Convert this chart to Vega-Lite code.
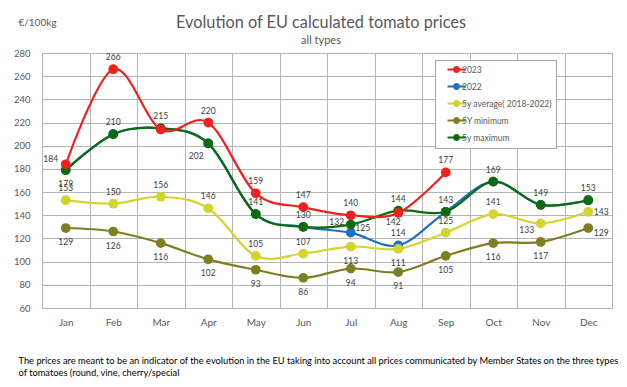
{
  "$schema": "https://vega.github.io/schema/vega-lite/v6.json",
  "width": 570,
  "height": 255,
  "autosize": {"type": "none"},
  "padding": {"left": 42, "top": 53, "right": 15, "bottom": 79},
  "background": "white",
  "config": {
    "font": "Lato",
    "view": {"stroke": "#b4b4b4", "strokeWidth": 1}
  },
  "title": {
    "text": "Evolution of EU calculated tomato prices",
    "subtitle": "all types",
    "fontSize": 16.3,
    "fontWeight": "normal",
    "color": "#595959",
    "subtitleColor": "#595959",
    "subtitleFontSize": 11,
    "anchor": "middle",
    "dx": -6,
    "offset": -29,
    "subtitlePadding": 4
  },
  "data": {
    "values": [
      {"month": "Jan", "series": "2023", "value": 184},
      {"month": "Feb", "series": "2023", "value": 266},
      {"month": "Mar", "series": "2023", "value": 214},
      {"month": "Apr", "series": "2023", "value": 220},
      {"month": "May", "series": "2023", "value": 159},
      {"month": "Jun", "series": "2023", "value": 147},
      {"month": "Jul", "series": "2023", "value": 140},
      {"month": "Aug", "series": "2023", "value": 142},
      {"month": "Sep", "series": "2023", "value": 177},
      {"month": "Jan", "series": "2022", "value": 179},
      {"month": "Feb", "series": "2022", "value": 210},
      {"month": "Mar", "series": "2022", "value": 215},
      {"month": "Apr", "series": "2022", "value": 202},
      {"month": "May", "series": "2022", "value": 141},
      {"month": "Jun", "series": "2022", "value": 130},
      {"month": "Jul", "series": "2022", "value": 125},
      {"month": "Aug", "series": "2022", "value": 114},
      {"month": "Sep", "series": "2022", "value": 143},
      {"month": "Oct", "series": "2022", "value": 169},
      {"month": "Nov", "series": "2022", "value": 149},
      {"month": "Dec", "series": "2022", "value": 153},
      {"month": "Jan", "series": "5y average( 2018-2022)", "value": 153},
      {"month": "Feb", "series": "5y average( 2018-2022)", "value": 150},
      {"month": "Mar", "series": "5y average( 2018-2022)", "value": 156},
      {"month": "Apr", "series": "5y average( 2018-2022)", "value": 146},
      {"month": "May", "series": "5y average( 2018-2022)", "value": 105},
      {"month": "Jun", "series": "5y average( 2018-2022)", "value": 107},
      {"month": "Jul", "series": "5y average( 2018-2022)", "value": 113},
      {"month": "Aug", "series": "5y average( 2018-2022)", "value": 111},
      {"month": "Sep", "series": "5y average( 2018-2022)", "value": 125},
      {"month": "Oct", "series": "5y average( 2018-2022)", "value": 141},
      {"month": "Nov", "series": "5y average( 2018-2022)", "value": 133},
      {"month": "Dec", "series": "5y average( 2018-2022)", "value": 143},
      {"month": "Jan", "series": "5Y minimum", "value": 129},
      {"month": "Feb", "series": "5Y minimum", "value": 126},
      {"month": "Mar", "series": "5Y minimum", "value": 116},
      {"month": "Apr", "series": "5Y minimum", "value": 102},
      {"month": "May", "series": "5Y minimum", "value": 93},
      {"month": "Jun", "series": "5Y minimum", "value": 86},
      {"month": "Jul", "series": "5Y minimum", "value": 94},
      {"month": "Aug", "series": "5Y minimum", "value": 91},
      {"month": "Sep", "series": "5Y minimum", "value": 105},
      {"month": "Oct", "series": "5Y minimum", "value": 116},
      {"month": "Nov", "series": "5Y minimum", "value": 117},
      {"month": "Dec", "series": "5Y minimum", "value": 129},
      {"month": "Jan", "series": "5y maximum", "value": 179},
      {"month": "Feb", "series": "5y maximum", "value": 210},
      {"month": "Mar", "series": "5y maximum", "value": 215},
      {"month": "Apr", "series": "5y maximum", "value": 202},
      {"month": "May", "series": "5y maximum", "value": 141},
      {"month": "Jun", "series": "5y maximum", "value": 130},
      {"month": "Jul", "series": "5y maximum", "value": 132},
      {"month": "Aug", "series": "5y maximum", "value": 144},
      {"month": "Sep", "series": "5y maximum", "value": 143},
      {"month": "Oct", "series": "5y maximum", "value": 169},
      {"month": "Nov", "series": "5y maximum", "value": 149},
      {"month": "Dec", "series": "5y maximum", "value": 153}
    ]
  },
  "encoding": {
    "x": {
      "field": "month",
      "type": "nominal",
      "sort": ["Jan", "Feb", "Mar", "Apr", "May", "Jun", "Jul", "Aug", "Sep", "Oct", "Nov", "Dec"],
      "scale": {"type": "band", "paddingInner": 0, "paddingOuter": 0},
      "axis": {
        "tickBand": "extent",
        "ticks": false,
        "domain": false,
        "grid": true,
        "gridColor": "#b4b4b4",
        "labelAngle": 0,
        "labelFontSize": 10,
        "labelColor": "#595959",
        "labelPadding": 9,
        "title": ["The prices are meant to be an indicator of the evolution in the EU taking into account all prices communicated by Member States on the three types", "of tomatoes (round, vine, cherry/special"],
        "titleX": -24,
        "titleY": 55,
        "titleAlign": "left",
        "titleAnchor": "start",
        "titleBaseline": "alphabetic",
        "titleFontSize": 9.3,
        "titleFontWeight": "normal",
        "titleColor": "#000000",
        "titleLineHeight": 12,
        "titleLimit": 800
      }
    },
    "y": {
      "field": "value",
      "type": "quantitative",
      "scale": {"domain": [60, 280], "nice": false, "zero": false},
      "axis": {
        "values": [60, 80, 100, 120, 140, 160, 180, 200, 220, 240, 260, 280],
        "ticks": false,
        "domain": false,
        "gridColor": "#b4b4b4",
        "labelFontSize": 9.5,
        "labelColor": "#595959",
        "labelPadding": 12,
        "title": "€/100kg",
        "titleAngle": 0,
        "titleX": -24,
        "titleY": -28,
        "titleAlign": "left",
        "titleBaseline": "alphabetic",
        "titleFontSize": 10,
        "titleFontWeight": "normal",
        "titleColor": "#595959"
      }
    }
  },
  "layer": [
    {
      "transform": [{"filter": "datum.series == '2022'"}],
      "mark": {"type": "line", "interpolate": "cardinal", "strokeWidth": 2.2, "point": {"filled": true, "size": 95, "opacity": 1}},
      "encoding": {
        "color": {
          "field": "series",
          "type": "nominal",
          "scale": {
            "domain": ["2023", "2022", "5y average( 2018-2022)", "5Y minimum", "5y maximum"],
            "range": ["#f2201c", "#1f6fc5", "#d4d42c", "#7f7f22", "#0d6b12"]
          },
          "legend": {
            "orient": "none",
            "legendX": 393,
            "legendY": 7,
            "title": null,
            "direction": "vertical",
            "padding": 4,
            "rowPadding": 4,
            "fillColor": "white",
            "strokeColor": "#a6a6a6",
            "symbolType": "M-2,0H2M-0.55,0A0.55,0.55,0,1,0,0.55,0A0.55,0.55,0,1,0,-0.55,0",
            "symbolSize": 81,
            "symbolStrokeWidth": 2,
            "symbolOffset": 12,
            "labelOffset": 0,
            "labelFontSize": 8.5,
            "labelColor": "#595959",
            "encode": {
              "symbols": {
                "update": {
                  "fill": {"scale": "color", "field": "value"},
                  "stroke": {"scale": "color", "field": "value"}
                }
              }
            }
          }
        }
      }
    },
    {
      "transform": [{"filter": "datum.series == '5Y minimum'"}],
      "mark": {"type": "line", "interpolate": "cardinal", "strokeWidth": 2.2, "point": {"filled": true, "size": 95, "opacity": 1}},
      "encoding": {"color": {"field": "series", "type": "nominal"}}
    },
    {
      "transform": [{"filter": "datum.series == '5y average( 2018-2022)'"}],
      "mark": {"type": "line", "interpolate": "cardinal", "strokeWidth": 2.2, "point": {"filled": true, "size": 95, "opacity": 1}},
      "encoding": {"color": {"field": "series", "type": "nominal"}}
    },
    {
      "transform": [{"filter": "datum.series == '5y maximum'"}],
      "mark": {"type": "line", "interpolate": "cardinal", "strokeWidth": 2.2, "point": {"filled": true, "size": 95, "opacity": 1}},
      "encoding": {"color": {"field": "series", "type": "nominal"}}
    },
    {
      "transform": [{"filter": "datum.series == '2023'"}],
      "mark": {"type": "line", "interpolate": "cardinal", "strokeWidth": 2.2, "point": {"filled": true, "size": 95, "opacity": 1}},
      "encoding": {"color": {"field": "series", "type": "nominal"}}
    },
    {
      "transform": [{"filter": "datum.series != '5Y minimum' && indexof(['2023|Mar','2022|Jan','2022|Feb','2022|Mar','2022|Apr','2022|May','2022|Jun','2022|Sep','2022|Oct','2022|Nov','2022|Dec','5y maximum|Jan','5y average( 2018-2022)|Jul','5y average( 2018-2022)|Aug','2023|Aug','2023|Jan','5y maximum|Apr','5y maximum|Jul','5y average( 2018-2022)|Nov','2022|Jul','5y average( 2018-2022)|Dec'], datum.series + '|' + datum.month) < 0"}],
      "mark": {"type": "text", "dy": -12, "fontSize": 8.5, "color": "#404040", "baseline": "middle"},
      "encoding": {"text": {"field": "value", "type": "quantitative"}}
    },
    {
      "transform": [{"filter": "(datum.series == '5Y minimum' && datum.month != 'Dec') || indexof(['5y maximum|Jan','5y average( 2018-2022)|Jul','5y average( 2018-2022)|Aug'], datum.series + '|' + datum.month) >= 0"}],
      "mark": {"type": "text", "dy": 14, "fontSize": 8.5, "color": "#404040", "baseline": "middle"},
      "encoding": {"text": {"field": "value", "type": "quantitative"}}
    },
    {
      "transform": [{"filter": "datum.series == '2023' && datum.month == 'Aug'"}],
      "mark": {"type": "text", "dx": -5, "dy": 9, "fontSize": 8.5, "color": "#404040", "baseline": "middle"},
      "encoding": {"text": {"field": "value", "type": "quantitative"}}
    },
    {
      "transform": [{"filter": "datum.series == '2023' && datum.month == 'Jan'"}],
      "mark": {"type": "text", "dx": -15, "dy": -5, "fontSize": 8.5, "color": "#404040", "baseline": "middle"},
      "encoding": {"text": {"field": "value", "type": "quantitative"}}
    },
    {
      "transform": [{"filter": "datum.series == '5y maximum' && datum.month == 'Apr'"}],
      "mark": {"type": "text", "dx": -12, "dy": 13, "fontSize": 8.5, "color": "#404040", "baseline": "middle"},
      "encoding": {"text": {"field": "value", "type": "quantitative"}}
    },
    {
      "transform": [{"filter": "datum.series == '5y maximum' && datum.month == 'Jul'"}],
      "mark": {"type": "text", "dx": -14, "dy": -3, "fontSize": 8.5, "color": "#404040", "baseline": "middle"},
      "encoding": {"text": {"field": "value", "type": "quantitative"}}
    },
    {
      "transform": [{"filter": "datum.series == '5y average( 2018-2022)' && datum.month == 'Nov'"}],
      "mark": {"type": "text", "dx": -14, "dy": 7, "fontSize": 8.5, "color": "#404040", "baseline": "middle"},
      "encoding": {"text": {"field": "value", "type": "quantitative"}}
    },
    {
      "transform": [{"filter": "datum.series == '2022' && datum.month == 'Jul'"}],
      "mark": {"type": "text", "dx": 12, "dy": -5, "fontSize": 8.5, "color": "#404040", "baseline": "middle"},
      "encoding": {"text": {"field": "value", "type": "quantitative"}}
    },
    {
      "transform": [{"filter": "datum.series == '5y average( 2018-2022)' && datum.month == 'Dec'"}],
      "mark": {"type": "text", "dx": 13, "dy": 0, "fontSize": 8.5, "color": "#404040", "baseline": "middle"},
      "encoding": {"text": {"field": "value", "type": "quantitative"}}
    },
    {
      "transform": [{"filter": "datum.series == '5Y minimum' && datum.month == 'Dec'"}],
      "mark": {"type": "text", "dx": 13, "dy": 5, "fontSize": 8.5, "color": "#404040", "baseline": "middle"},
      "encoding": {"text": {"field": "value", "type": "quantitative"}}
    }
  ]
}
